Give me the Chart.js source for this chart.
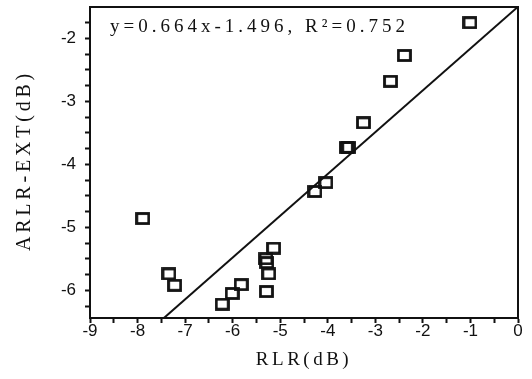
<!DOCTYPE html>
<html>
<head>
<meta charset="utf-8">
<script src="https://cdn.jsdelivr.net/npm/chart.js@4.4.1/dist/chart.umd.min.js"></script>
<style>
  html, body { margin: 0; padding: 0; background: #fff; }
  #wrap { width: 532px; height: 379px; }
</style>
</head>
<body>
<div id="wrap"><canvas id="mycanvas" width="532" height="379"></canvas></div>
<script>
// measured points (RLR, ARLR-EXT)
let rlr = [-1.01, -2.39, -2.68, -3.25, -3.61, -3.56, -4.04, -4.27, -7.89, -7.34, -7.22,
           -6.22, -6.01, -5.82, -5.29, -5.24, -5.30, -5.28, -5.14];
let arlrExt = [-1.75, -2.27, -2.68, -3.34, -3.73, -3.73, -4.29, -4.43, -4.86, -5.74, -5.92,
               -6.22, -6.05, -5.91, -6.02, -5.74, -5.50, -5.56, -5.33];

// fit given on the chart
let slope = 0.664;
let intercept = -1.496;
let r2 = 0.752;

let xMin = -9, xMax = 0;
let yMin = -6.44, yMax = -1.5;
let xLabels = [-9, -8, -7, -6, -5, -4, -3, -2, -1, 0];
let yLabels = [-6, -5, -4, -3, -2];

// tick marks: every 0.5 on x, every 0.25 on y
let xTickVals = [];
for (let v = -9; v <= 0.001; v += 0.5) xTickVals.push(Math.round(v * 100) / 100);
let yTickVals = [];
for (let v = -6.25; v <= -1.74; v += 0.25) yTickVals.push(Math.round(v * 100) / 100);

let fitStart = (yMin - intercept) / slope;
let fitLine = [
    { x: fitStart, y: slope * fitStart + intercept },
    { x: 0, y: intercept }
];

let points = [];
for (let i in rlr) {
    points.push({ x: rlr[i], y: arlrExt[i] });
}

// hollow rectangle marker
let box = document.createElement('canvas');
box.width = 15;
box.height = 13;
let bctx = box.getContext('2d');
bctx.strokeStyle = '#111';
bctx.lineWidth = 2.8;
bctx.strokeRect(1.5, 1.5, 12, 10);

let labelFont = '"Liberation Serif", "DejaVu Serif", serif';

let framePlugin = {
    id: 'frame',
    afterDatasetsDraw: function(chart) {
        let a = chart.chartArea;
        let ctx = chart.ctx;
        ctx.save();
        ctx.strokeStyle = '#111';
        ctx.lineWidth = 2;
        ctx.strokeRect(a.left, a.top, a.right - a.left, a.bottom - a.top);

        ctx.fillStyle = '#111';
        ctx.textBaseline = 'middle';

        // fit equation
        ctx.font = '19px ' + labelFont;
        ctx.letterSpacing = '4px';
        ctx.textAlign = 'left';
        ctx.fillText('y=' + slope + 'x' + intercept + ', R\u00b2=' + r2, a.left + 20, a.top + 20);

        // axis titles
        ctx.font = '19px ' + labelFont;
        ctx.letterSpacing = '3.5px';
        ctx.textAlign = 'center';
        ctx.fillText('RLR(dB)', (a.left + a.right) / 2, 360);

        ctx.translate(25, (a.top + a.bottom) / 2);
        ctx.rotate(-Math.PI / 2);
        ctx.font = '20px ' + labelFont;
        ctx.letterSpacing = '3.8px';
        ctx.fillText('ARLR-EXT(dB)', 2, 0);
        ctx.restore();
    }
};

let tickFont = { family: '"Liberation Sans", Arial, sans-serif', size: 17 };

let ctx = document.getElementById('mycanvas');

var scatterChart = new Chart(ctx, {
    type: 'scatter',
    data: {
        datasets: [
            {
                label: 'measured',
                data: points,
                pointStyle: box,
                pointRadius: 6,
                showLine: false
            }, {
                label: 'fit',
                type: 'line',
                data: fitLine,
                borderColor: '#111',
                borderWidth: 2,
                pointRadius: 0,
                fill: false,
                tension: 0
            }
        ]
    },
    options: {
        responsive: false,
        animation: false,
        devicePixelRatio: 1,
        layout: { padding: { top: 5, right: 14, left: 0, bottom: 0 } },
        plugins: {
            legend: { display: false },
            tooltip: { enabled: false }
        },
        scales: {
            x: {
                type: 'linear',
                min: xMin,
                max: xMax,
                afterBuildTicks: function(s) {
                    s.ticks = xTickVals.map(function(v) { return { value: v }; });
                },
                afterFit: function(s) {
                    s.height = 61;
                    s.paddingLeft = 0;
                    s.paddingRight = 0;
                },
                ticks: {
                    autoSkip: false,
                    maxRotation: 0,
                    padding: -2,
                    color: '#111',
                    font: tickFont,
                    callback: function(v) { return xLabels.indexOf(v) >= 0 ? String(v) : ''; }
                },
                grid: { drawOnChartArea: false, drawTicks: true, tickLength: 5, tickColor: '#111', tickWidth: 2 },
                border: { display: true, color: '#111', width: 2 }
            },
            y: {
                type: 'linear',
                min: yMin,
                max: yMax,
                afterBuildTicks: function(s) {
                    s.ticks = yTickVals.map(function(v) { return { value: v }; });
                },
                afterFit: function(s) {
                    s.width = 90;
                    s.paddingTop = 0;
                    s.paddingBottom = 0;
                },
                ticks: {
                    autoSkip: false,
                    padding: 9,
                    color: '#111',
                    font: tickFont,
                    callback: function(v) { return yLabels.indexOf(v) >= 0 ? String(v) : ''; }
                },
                grid: { drawOnChartArea: false, drawTicks: true, tickLength: 5, tickColor: '#111', tickWidth: 2 },
                border: { display: true, color: '#111', width: 2 }
            }
        }
    },
    plugins: [framePlugin]
});
</script>
</body>
</html>
